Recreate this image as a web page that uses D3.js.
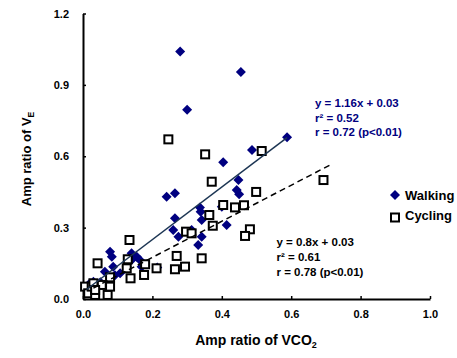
<!DOCTYPE html>
<html><head><meta charset="utf-8">
<script src="https://cdn.jsdelivr.net/npm/d3@7"></script>
<style>body{margin:0;background:#fff;} text{font-family:"Liberation Sans",Arial,sans-serif;font-weight:bold;}</style>
</head><body>
<svg id="c" width="457" height="358"></svg>
<script>
const xTicks = [0, 0.2, 0.4, 0.6, 0.8, 1.0];
const yTicks = [0, 0.3, 0.6, 0.9, 1.2];
const walkX = [0.28,0.455,0.30,0.487,0.588,0.404,0.448,0.443,0.45,0.337,0.40,0.339,0.342,0.414,0.313,0.342,0.332,0.241,0.265,0.265,0.26,0.275,0.078,0.083,0.14,0.155,0.164,0.169,0.214,0.063,0.087,0.092,0.107,0.126,0.02,0.03,0.04,0.05,0.14];
const walkY = [1.04,0.954,0.795,0.626,0.68,0.575,0.50,0.458,0.44,0.385,0.388,0.367,0.332,0.311,0.29,0.262,0.227,0.43,0.444,0.339,0.29,0.262,0.199,0.178,0.192,0.178,0.164,0.136,0.132,0.115,0.136,0.10,0.108,0.136,0.066,0.073,0.059,0.07,0.164];
const cycX = [0.246,0.352,0.515,0.693,0.371,0.499,0.404,0.438,0.464,0.364,0.374,0.481,0.467,0.297,0.313,0.342,0.294,0.134,0.042,0.129,0.126,0.137,0.179,0.176,0.212,0.27,0.265,0.078,0.078,0.006,0.015,0.035,0.071,0.025,0.054,0.03,0.035];
const cycY = [0.671,0.608,0.622,0.50,0.493,0.45,0.395,0.385,0.394,0.353,0.308,0.293,0.265,0.283,0.276,0.171,0.136,0.248,0.15,0.167,0.129,0.087,0.146,0.101,0.129,0.181,0.125,0.091,0.052,0.052,0.024,0.017,0.017,0.052,0.059,0.066,0.038];
const walkFit = [[0.01,0.04],[0.588,0.678]];
const cycFit = [[0.03,0.046],[0.717,0.567]];
const walkEq = ["y = 1.16x + 0.03", "r² = 0.52", "r = 0.72 (p<0.01)"];
const cycEq = ["y = 0.8x + 0.03", "r² = 0.61", "r = 0.78 (p<0.01)"];
const legendLabels = ["Walking", "Cycling"];

const svg = d3.select("#c");
const x = d3.scaleLinear().domain([0,1]).range([83,430]);
const y = d3.scaleLinear().domain([0,1.2]).range([299,13.5]);
const navy = "#000080";

// axes
const xa = svg.append("g").attr("transform","translate(0,299)")
  .call(d3.axisBottom(x).tickValues(xTicks).tickSizeInner(-3).tickSizeOuter(0).tickPadding(11).tickFormat(d3.format(".1f")));
const ya = svg.append("g").attr("transform","translate(83,0)")
  .call(d3.axisLeft(y).tickValues(yTicks).tickSizeInner(-3).tickSizeOuter(0).tickPadding(14).tickFormat(d3.format(".1f")));
[xa,ya].forEach(a=>{
  a.select(".domain").attr("stroke","#000").attr("stroke-width",2);
  a.selectAll(".tick line").attr("stroke","#000").attr("stroke-width",1.5);
  a.selectAll(".tick text").attr("font-size",11).attr("fill","#000").style("font-family","Liberation Sans, Arial").style("font-weight","bold");
});

// diamonds
svg.append("g").selectAll("path").data(walkX.map((v,i)=>[v,walkY[i]])).join("path")
  .attr("d", "M0,-5L5,0L0,5L-5,0Z")
  .attr("transform", d=>`translate(${x(d[0])},${y(d[1])})`).attr("fill",navy);

// squares
svg.append("g").selectAll("rect").data(cycX.map((v,i)=>[v,cycY[i]])).join("rect")
  .attr("x", d=>x(d[0])-4).attr("y", d=>y(d[1])-4).attr("width",8).attr("height",8)
  .attr("fill","#fff").attr("stroke","#000").attr("stroke-width",2);

// fit lines
const line = d3.line().x(d=>x(d[0])).y(d=>y(d[1]));
svg.append("path").attr("d", line(walkFit)).attr("stroke","#1c3553").attr("stroke-width",1.5).attr("fill","none");
svg.append("path").attr("d", line(cycFit)).attr("stroke","#000").attr("stroke-width",1.5).attr("stroke-dasharray","6,4").attr("fill","none");

// equations
svg.append("g").selectAll("text").data(walkEq).join("text")
  .attr("x",315).attr("y",(d,i)=>107+i*14.5).attr("font-size",11.5).attr("fill",navy).text(d=>d);
svg.append("g").selectAll("text").data(cycEq).join("text")
  .attr("x",276.5).attr("y",(d,i)=>245.5+i*15).attr("font-size",11.5).attr("fill","#000").text(d=>d);

// legend
svg.append("path").attr("d","M0,-5L5,0L0,5L-5,0Z").attr("transform","translate(395,195)").attr("fill",navy);
svg.append("rect").attr("x",391).attr("y",213.5).attr("width",8).attr("height",8).attr("fill","#fff").attr("stroke","#000").attr("stroke-width",2);
svg.append("g").selectAll("text").data(legendLabels).join("text")
  .attr("x",405).attr("y",(d,i)=>200+i*19.5).attr("font-size",13).attr("fill","#000").text(d=>d);

// axis titles
const xt = svg.append("text").attr("x",256).attr("y",345).attr("text-anchor","middle").attr("font-size",14).attr("fill","#000");
xt.append("tspan").text("Amp ratio of VCO");
xt.append("tspan").attr("font-size",9).attr("dy",3).text("2");
const yt = svg.append("text").attr("transform","translate(31,159) rotate(-90)").attr("text-anchor","middle").attr("font-size",13).attr("fill","#000");
yt.append("tspan").text("Amp ratio of V");
yt.append("tspan").attr("font-size",8.5).attr("dy",3).text("E");
</script>
</body></html>
